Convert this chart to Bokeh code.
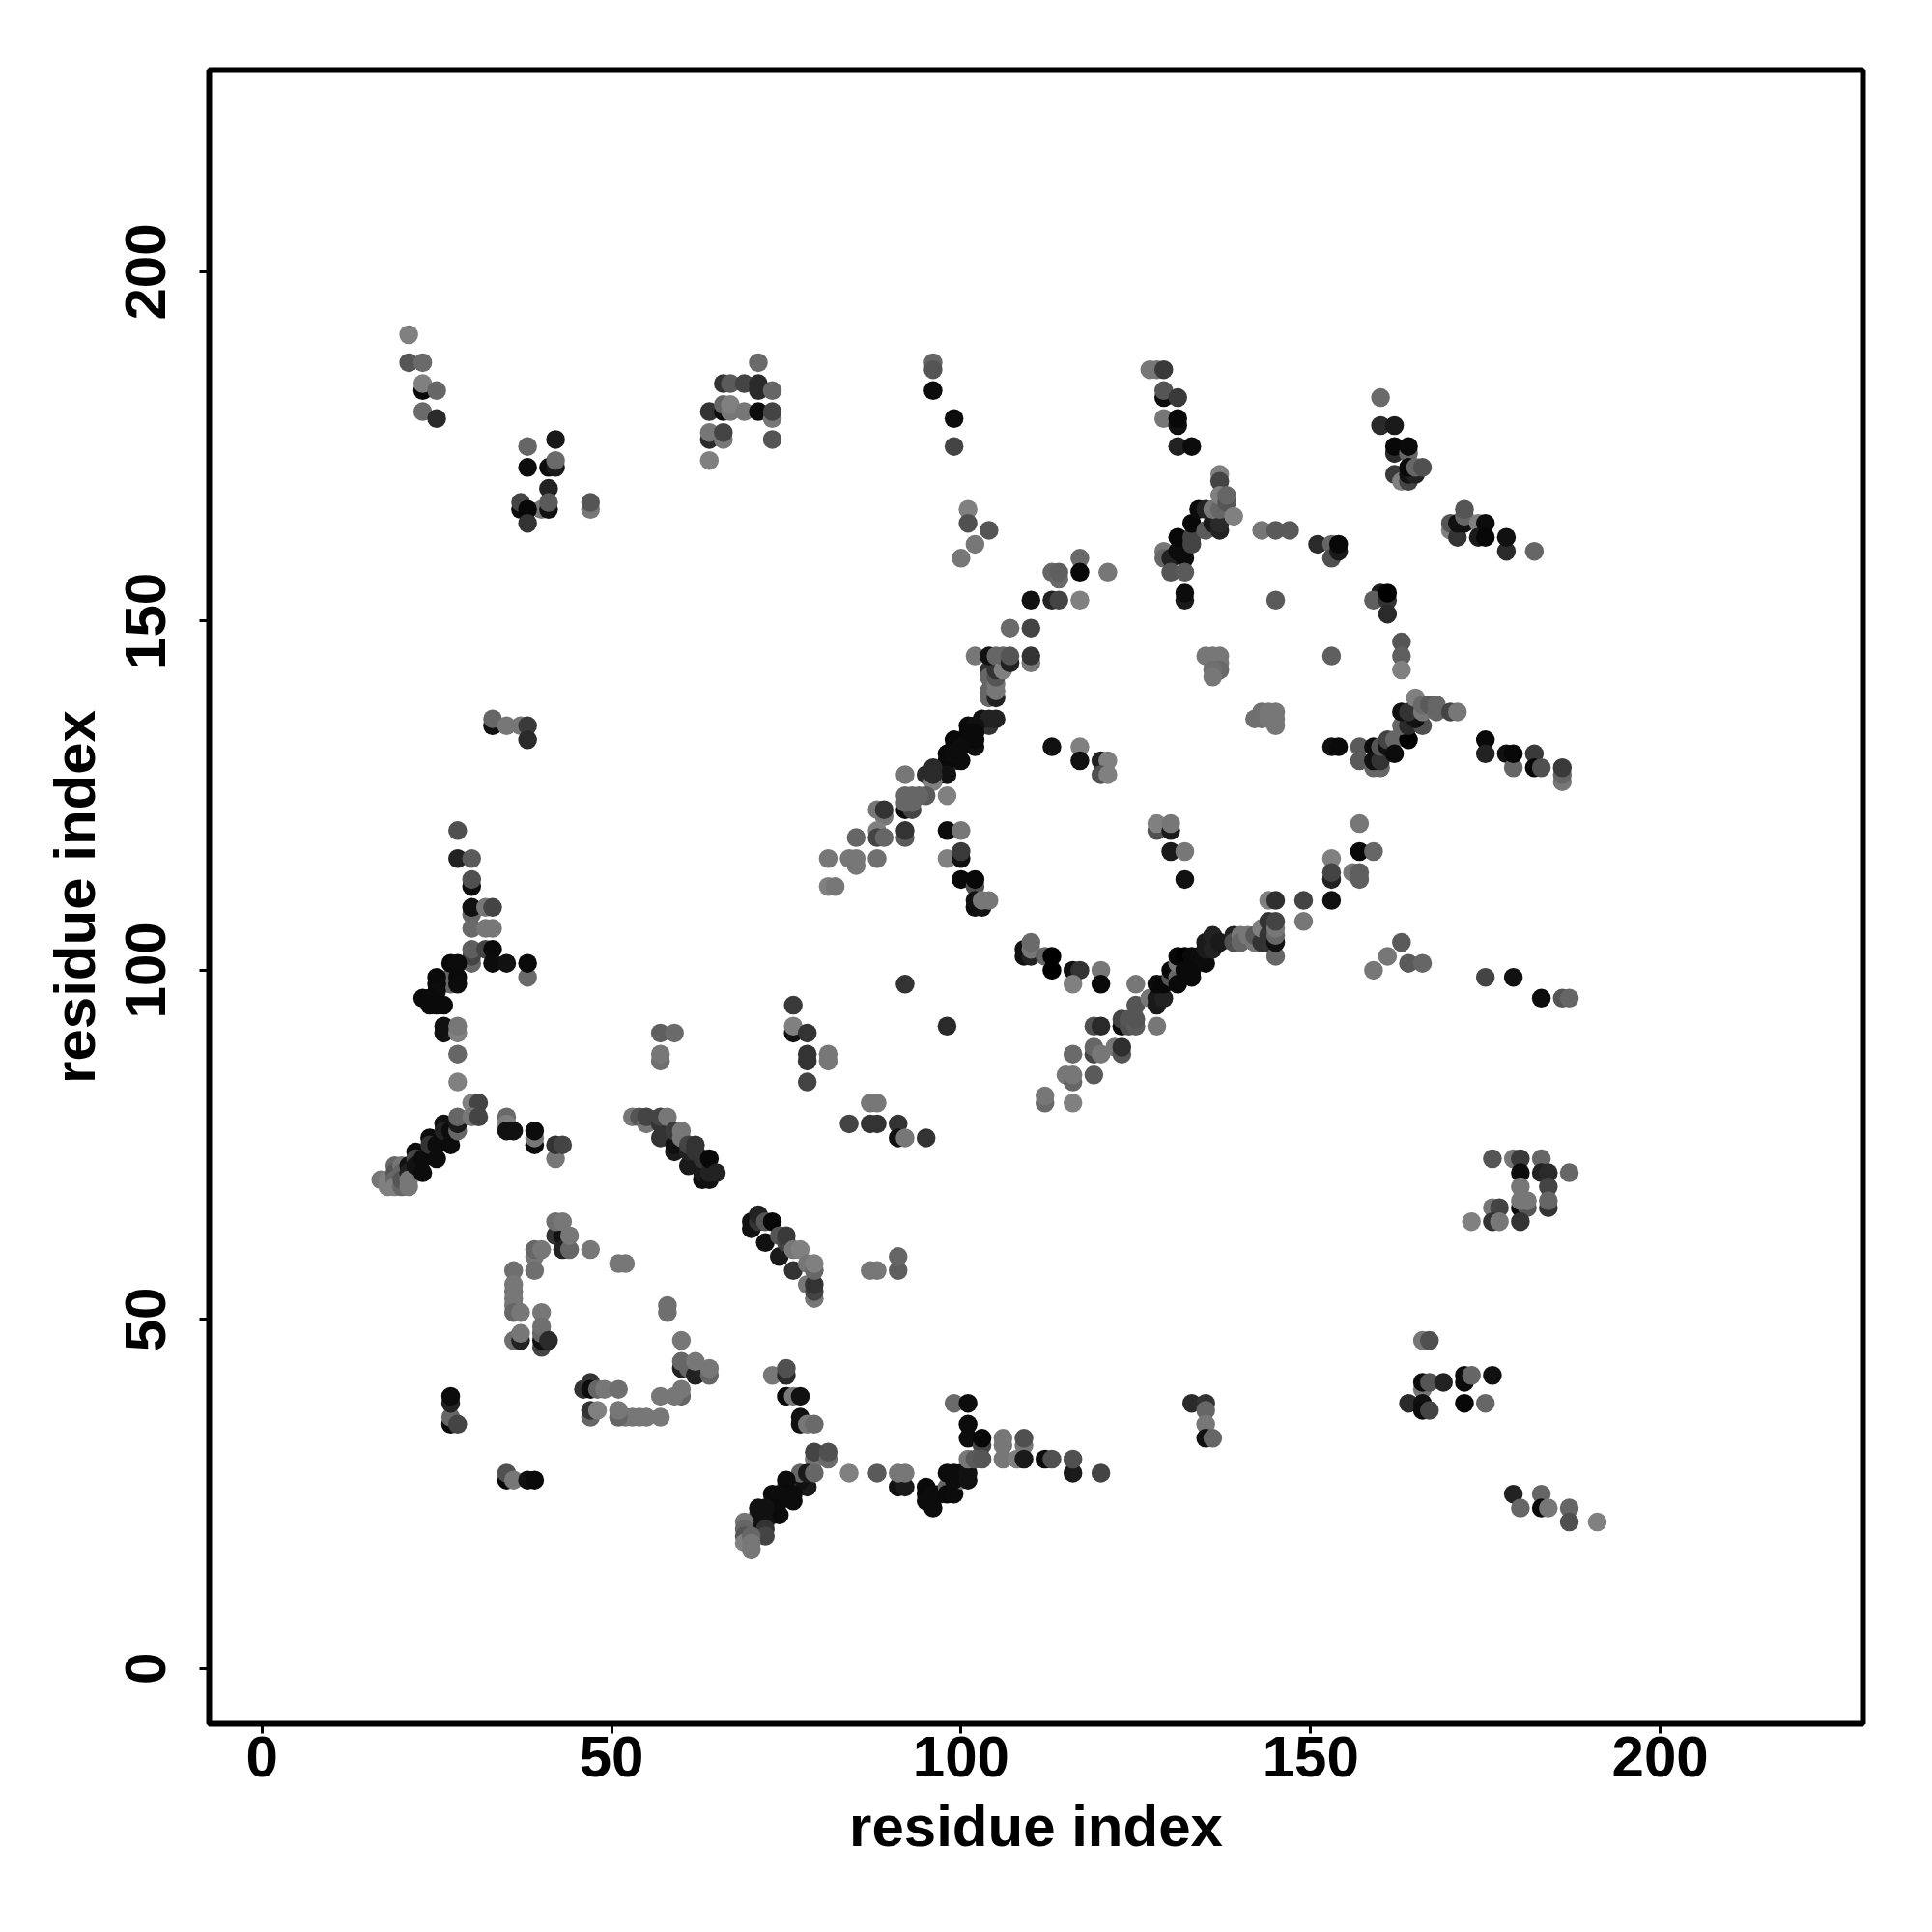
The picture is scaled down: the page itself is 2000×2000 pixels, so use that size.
from bokeh.plotting import figure
from bokeh.models import FixedTicker, Range1d, ColumnDataSource
from bokeh.embed import file_html
from bokeh.resources import INLINE

tick_values = [0, 50, 100, 150, 200]
axis_title = "residue index"

# (residue i, residue j, grey level of the point)
top_left = [(21,191,0x80),(21,187,0x55),(23,187,0x6a),(23,183,0x08),(23,184,0x80),(25,183,0x66),(23,180,0x6a),(25,179,0x2a),
 (38,175,0x66),(42,176,0x18),(38,172,0x0c),(41,172,0x0c),(42,172,0x1a),(42,173,0x6a),(41,169,0x22),(37,166,0x0c),(37,167,0x44),(40,166,0x77),(38,166,0x08),(41,166,0x11),(41,167,0x5a),(38,164,0x33),(47,166,0x77),(47,167,0x55),
 (33,135,0x11),(33,136,0x66),(35,135,0x77),(37,135,0x77),(38,135,0x3a),(38,133,0x2a)]
top_mid = [(71,187,0x6a),(66,184,0x33),(67,184,0x5a),(69,184,0x44),(71,184,0x2a),(71,183,0x2a),(73,183,0x66),(64,180,0x33),(66,180,0x0c),(66,181,0x66),(67,180,0x77),(67,181,0x80),(69,180,0x77),(71,180,0x0c),(73,179,0x77),(73,180,0x44),(64,176,0x2a),(64,177,0x77),(66,176,0x77),(66,177,0x44),(73,176,0x55),(64,173,0x80),
 (96,187,0x66),(96,186,0x55),(96,183,0x0c),(99,179,0x0c),(99,175,0x44),(101,166,0x80),(101,164,0x50),(104,163,0x55),(102,161,0x77),(100,159,0x77),
 (117,159,0x6a),(117,157,0x08),(121,157,0x77),(113,157,0x66),(114,156,0x6a),(114,157,0x5f),(110,153,0x11),(113,153,0x22),(114,153,0x44),(117,153,0x80),(107,149,0x6a),(110,149,0x44),
 (127,186,0x77),(128,186,0x77),(129,186,0x3a),(129,182,0x0c),(129,183,0x55),(131,182,0x3a),(129,179,0x77),(131,178,0x11),(131,179,0x08),(131,175,0x22),(133,175,0x0c)]
star_upper = [(129,160,0x77),(129,159,0x66),(130,159,0x22),(131,160,0x0c),(132,159,0x0c),(131,162,0x08),(133,161,0x44),(133,162,0x44),(133,164,0x08),(130,157,0x55),(132,157,0x5a),(132,153,0x1a),(132,154,0x0c),
 (134,166,0x0c),(135,163,0x5a),(135,166,0x22),(136,164,0x1a),(137,163,0x22),(137,164,0x2a),(136,166,0x77),(137,166,0x66),(137,171,0x80),(137,170,0x44),(137,168,0x80),(138,167,0x55),(138,168,0x66),(139,165,0x80),
 (143,163,0x77),(145,163,0x5a),(147,163,0x5a),(151,161,0x2a),(153,161,0x66),(153,159,0x50),(154,160,0x1a),(154,161,0x08),(145,153,0x5a),(153,145,0x5f),
 (135,145,0x77),(136,145,0x77),(137,145,0x77),(136,144,0x77),(137,144,0x77),(137,143,0x6a),(136,143,0x70),(136,142,0x77),
 (160,182,0x6a),(160,178,0x2a),(162,178,0x1a),(162,174,0x2a),(162,175,0x08),(164,174,0x66),(164,175,0x0a),(162,171,0x3a),(163,170,0x80),(164,170,0x44),(164,171,0x11),(165,171,0x22),(164,172,0x0a),(165,172,0x66),(166,172,0x50),
 (170,163,0x80),(170,164,0x55),(171,162,0x33),(171,164,0x11),(172,164,0x11),(172,165,0x66),(172,166,0x55),(174,164,0x80),(174,162,0x1a),(175,164,0x0c),(175,162,0x08),(178,160,0x2a),(178,162,0x11),(182,160,0x66),
 (160,154,0x1a),(159,153,0x5f),(161,153,0x33),(161,154,0x00),(161,151,0x2a),(163,147,0x55),(163,145,0x5f),(163,143,0x80)]
right_band = [(153,132,0x11),(154,132,0x0a),(157,132,0x5a),(157,130,0x5a),(159,129,0x66),(160,129,0x66),(159,132,0x0c),(159,130,0x11),(160,130,0x33),(160,132,0x55),(161,132,0x11),(161,133,0x44),(162,133,0x66),(162,131,0x0c),(164,133,0x00),
 (163,135,0x66),(164,135,0x2a),(166,135,0x50),(165,136,0x11),(163,137,0x11),(164,137,0x33),(165,139,0x80),(166,137,0x77),(166,138,0x6a),(167,138,0x5a),(168,137,0x66),(168,138,0x66),(170,137,0x44),(171,137,0x77),
 (175,133,0x08),(175,131,0x22),(178,131,0x11),(179,129,0x66),(179,131,0x08),(182,131,0x3a),(182,129,0x08),(183,129,0x50),(186,127,0x77),(186,128,0x66),(186,129,0x3a),
 (142,136,0x70),(143,137,0x70),(143,136,0x70),(144,137,0x77),(144,136,0x77),(145,135,0x77),(145,136,0x77),(145,137,0x77)]
diag_upper = [(102,145,0x77),(104,143,0x33),(104,142,0x66),(104,140,0x66),(104,139,0x66),(105,139,0x22),(105,140,0x77),(105,141,0x77),(105,142,0x55),(105,143,0x33),(104,145,0x11),(105,145,0x66),(106,143,0x80),(106,145,0x66),(107,144,0x22),(107,145,0x55),(110,144,0x77),(110,145,0x33),
 (102,132,0x11),(104,135,0x33),(103,136,0x11),(104,136,0x22),(105,136,0x22),(101,135,0x0a),(102,135,0x11),(101,134,0x0a),(102,134,0x0a),(101,133,0x0a),(102,133,0x0a),(99,130,0x33),(100,130,0x0c),(99,133,0x08),(99,132,0x08),(100,132,0x0c),(98,130,0x0a),(98,131,0x0a),(99,131,0x0c),
 (98,128,0x11),(97,128,0x11),(95,128,0x2a),(96,127,0x80),(96,128,0x2a),(96,129,0x2a),(92,128,0x77),(95,125,0x5a),(98,125,0x80),(92,123,0x0c),(93,123,0x44),(94,125,0x66),(92,124,0x66),(93,124,0x66),(92,125,0x66),(93,125,0x66),
 (89,122,0x77),(88,123,0x77),(89,123,0x33),(88,120,0x80),(88,119,0x44),(89,119,0x66),(85,119,0x66),(92,119,0x5a),(92,120,0x33),(81,116,0x77),(84,116,0x77),(85,115,0x77),(85,116,0x77),(88,116,0x70),(81,112,0x80),(82,112,0x77),
 (98,120,0x0c),(100,120,0x77),(98,116,0x80),(100,116,0x11),(100,117,0x3a),(100,113,0x08),(102,112,0x50),(102,113,0x08),(102,109,0x0c),(103,109,0x11),(102,110,0x11),(103,110,0x77),(104,110,0x77),
 (113,132,0x11),(117,132,0x80),(117,130,0x11),(120,130,0x22),(121,130,0x80),(120,128,0x50),(121,128,0x80)]
ring_mid = [(128,120,0x50),(128,121,0x80),(130,120,0x1a),(130,121,0x77),(130,117,0x1a),(132,117,0x77),(132,113,0x11),(157,121,0x77),(157,117,0x08),(159,117,0x66),(156,114,0x77),(157,114,0x5f),(157,113,0x5f),
 (153,116,0x80),(153,113,0x22),(153,114,0x44),(153,110,0x11),(149,110,0x44),(149,107,0x77),(144,110,0x80),(145,110,0x2f),
 (109,102,0x11),(109,103,0x11),(110,102,0x22),(110,103,0x77),(110,104,0x6a),(112,102,0x66),(113,102,0x00),(113,100,0x00),(116,100,0x11),(117,100,0x33),(116,98,0x80),(120,100,0x77),(120,98,0x0a),(125,98,0x77),(92,98,0x33),(98,92,0x2a),(128,92,0x77)]
diag_lower = [(112,81,0x6a),(112,82,0x77),(116,81,0x80),(115,85,0x77),(116,84,0x66),(116,85,0x77),(119,85,0x5a),(116,88,0x6a),(119,88,0x44),(119,89,0x66),(120,88,0x77),(122,89,0x77),(123,88,0x55),(123,89,0x2f),
 (119,92,0x50),(120,92,0x2a),(123,92,0x0c),(123,93,0x44),(124,92,0x50),(124,93,0x55),(125,92,0x5a),(125,93,0x55),(125,95,0x55),(127,96,0x77),(128,95,0x1a),(128,96,0x1a),(129,96,0x22),
 (128,98,0x0a),(129,98,0x08),(130,99,0x55),(130,100,0x08),(131,99,0x66),(131,98,0x0a),(131,101,0x77),(131,102,0x08),(132,102,0x00),(133,102,0x0a),(132,100,0x0a),(133,100,0x0a),(133,99,0x0a),(134,102,0x0c),(135,101,0x0c),(135,103,0x1a),(135,104,0x1a),(136,103,0x22),(136,105,0x22),(137,104,0x1a),
 (139,105,0x22),(139,104,0x50),(140,105,0x77),(140,104,0x66),(141,105,0x77),(142,104,0x77),(142,105,0x5a),(143,104,0x33),(143,106,0x80),(144,104,0x33),(144,105,0x33),(144,107,0x33),(145,102,0x66),(145,104,0x11),(145,105,0x66),(145,106,0x77),(145,107,0x44),
 (159,100,0x77),(161,102,0x77),(163,104,0x5a),(164,101,0x5a),(166,101,0x66),(175,99,0x44),(179,99,0x11),(183,96,0x0c),(186,96,0x55),(187,96,0x66)]
left_upper = [(28,120,0x50),(28,116,0x22),(30,116,0x5a),(30,112,0x0c),(30,113,0x50),(30,108,0x66),(30,109,0x11),(32,109,0x77),(33,109,0x44),(30,106,0x6a),(32,106,0x77),(33,106,0x77),(30,101,0x66),(30,102,0x44),(30,103,0x5f),(32,103,0x44),(33,103,0x0a),(33,101,0x0c),(35,101,0x11),(38,99,0x6a),(38,101,0x0a),
 (27,99,0x66),(27,98,0x66),(27,101,0x0a),(28,101,0x0c),(28,99,0x0a),(28,98,0x0c),(25,99,0x0a),(25,98,0x0a),(25,97,0x0c),(23,96,0x0a),(24,96,0x0a),(24,95,0x0a),(25,95,0x0a),(26,95,0x0a),(26,91,0x11),(26,92,0x11),(28,91,0x80),(28,92,0x77),(28,88,0x66),(28,84,0x80)]
left_lower = [(17,70,0x77),(18,69,0x80),(18,70,0x80),(19,72,0x66),(19,71,0x55),(19,70,0x66),(19,69,0x80),(20,72,0x77),(20,71,0x66),(20,69,0x66),(20,70,0x55),(21,72,0x11),(21,71,0x22),(21,69,0x77),(21,70,0x77),
 (22,74,0x0c),(22,73,0x44),(22,72,0x11),(23,73,0x0c),(23,71,0x0c),(24,76,0x0c),(24,75,0x33),(25,75,0x0c),(25,73,0x0c),(26,78,0x11),(26,77,0x22),(27,77,0x0c),(27,75,0x0c),(28,77,0x66),(28,78,0x1a),(28,79,0x66),(30,81,0x80),(31,81,0x44),(30,79,0x77),(31,79,0x44),
 (35,79,0x6a),(35,78,0x80),(35,77,0x11),(36,77,0x11),(39,75,0x0a),(39,76,0x77),(39,77,0x0c),(42,73,0x77),(42,75,0x33),(43,75,0x44),
 (57,91,0x5f),(59,91,0x6a),(57,87,0x6f),(57,88,0x77),(76,95,0x3a),(76,91,0x11),(76,92,0x80),(78,91,0x33),(78,87,0x33),(78,88,0x33),(78,84,0x44),(81,87,0x77),(81,88,0x77),(87,81,0x77),(88,81,0x77),(84,78,0x44),(87,78,0x33),(88,78,0x33),(91,78,0x33),(91,76,0x11),(92,76,0x77),(95,76,0x33)]
diag_a = [(53,79,0x77),(54,79,0x55),(55,78,0x77),(55,79,0x44),(57,76,0x33),(57,78,0x33),(57,79,0x44),(58,79,0x77),(59,74,0x1a),(59,75,0x11),(59,77,0x3a),(60,76,0x77),(60,77,0x77),(61,72,0x1a),(61,74,0x22),(61,75,0x44),(62,74,0x33),(62,75,0x33),(63,70,0x0c),(63,71,0x1a),(63,73,0x33),(64,70,0x11),(64,71,0x22),(64,73,0x08),(65,71,0x22)]
diag_b = [(70,63,0x11),(70,64,0x11),(71,64,0x33),(71,65,0x22),(72,61,0x11),(72,64,0x55),(73,64,0x08),(74,59,0x1a),(74,62,0x55),(75,61,0x44),(75,62,0x3a),(76,57,0x33),(76,60,0x77),(77,60,0x80),(78,55,0x77),(78,58,0x77),(79,53,0x77),(79,54,0x44),(79,55,0x33),(79,57,0x66),(79,58,0x80),(87,57,0x77),(88,57,0x77),(91,57,0x5f),(91,59,0x66)]
ring_low = [(42,62,0x33),(43,62,0x11),(43,60,0x22),(44,60,0x66),(42,64,0x6f),(43,64,0x77),(44,62,0x77),(47,60,0x77),(39,59,0x77),(39,60,0x66),(40,60,0x77),(39,57,0x6f),(36,57,0x6f),(36,54,0x6f),(36,55,0x77),(36,53,0x77),(36,52,0x77),(36,51,0x66),(37,51,0x77),(40,51,0x77),(40,46,0x44),(40,47,0x11),(40,48,0x66),(40,49,0x6f),(41,47,0x2a),(36,47,0x6f),(37,47,0x22),(37,48,0x77),
 (51,58,0x77),(52,58,0x77),(58,52,0x6f),(58,51,0x6f),(60,47,0x77),(60,43,0x22),(60,44,0x66),(61,43,0x66),(62,42,0x22),(62,44,0x77),(64,42,0x66),(64,43,0x77),(60,39,0x66),(60,40,0x77),(59,39,0x77),(57,39,0x77),(57,36,0x77),(55,36,0x77),(54,36,0x77),(53,36,0x77),(52,36,0x77),(51,36,0x66),(51,37,0x77),
 (47,41,0x33),(46,40,0x33),(47,40,0x0c),(48,40,0x66),(49,40,0x77),(51,40,0x6f),(47,36,0x66),(47,37,0x33),(48,37,0x80)]
bottom_left = [(73,42,0x77),(75,42,0x2a),(75,43,0x50),(75,39,0x08),(76,39,0x77),(77,39,0x11),(77,36,0x11),(77,35,0x11),(78,35,0x77),(79,35,0x6a),(79,30,0x77),(79,31,0x44),(81,30,0x6a),(81,31,0x50),(78,26,0x1a),(77,27,0x11),(77,28,0x66),(78,28,0x1a),(79,28,0x66),
 (75,26,0x66),(75,27,0x0c),(75,25,0x0a),(76,25,0x0c),(76,24,0x0c),(73,24,0x77),(73,25,0x0a),(74,25,0x0c),(74,24,0x0c),(73,23,0x0a),(74,22,0x0c),(73,22,0x0a),(71,22,0x33),(71,23,0x11),(72,23,0x11),(71,21,0x11),(72,21,0x11),(72,20,0x33),(72,19,0x44),
 (69,21,0x77),(69,20,0x66),(69,19,0x55),(69,18,0x80),(70,19,0x66),(70,18,0x77),(70,17,0x77),
 (27,35,0x0a),(27,36,0x66),(27,38,0x22),(27,39,0x0c),(28,35,0x44),(35,27,0x08),(35,28,0x50),(36,27,0x77),(38,27,0x11),(39,27,0x0a)]
bottom_mid = [(84,28,0x80),(88,28,0x5a),(91,26,0x11),(92,26,0x1a),(91,28,0x77),(92,28,0x77),(95,26,0x0a),(95,25,0x0a),(95,24,0x0c),(96,23,0x0c),(96,25,0x0c),(97,25,0x0c),(98,26,0x66),(98,25,0x0a),(99,25,0x0c),(98,28,0x0c),(99,28,0x0c),(100,27,0x77),(99,27,0x0c),(100,28,0x0c),(101,27,0x11),(101,28,0x11),
 (99,38,0x6a),(101,38,0x0c),(101,35,0x0c),(101,33,0x0c),(103,32,0x44),(103,33,0x08),(101,30,0x77),(102,30,0x5a),(103,30,0x55),(106,30,0x77),(106,32,0x77),(106,33,0x77),(109,32,0x77),(109,33,0x50),(108,30,0x80),(109,30,0x1a),(112,30,0x0c),(113,30,0x50),(116,28,0x1a),(116,30,0x50),(120,28,0x44),
 (133,38,0x2a),(135,38,0x33),(135,37,0x66),(135,35,0x77),(135,33,0x11),(136,33,0x66)]
bottom_right = [(176,73,0x55),(179,73,0x77),(180,73,0x3a),(183,73,0x66),(180,71,0x0c),(183,71,0x22),(184,71,0x2a),(187,71,0x66),(180,69,0x77),(184,69,0x44),(184,66,0x33),(184,67,0x66),(180,66,0x0c),(181,66,0x55),(180,67,0x77),(181,67,0x77),(176,66,0x77),(177,66,0x44),(176,64,0x33),(177,64,0x77),(173,64,0x80),(180,64,0x33),
 (166,47,0x77),(167,47,0x50),(166,40,0x77),(166,41,0x0c),(167,41,0x55),(169,41,0x22),(172,41,0x0c),(172,42,0x0c),(173,42,0x66),(176,42,0x11),(164,38,0x2a),(166,38,0x11),(166,37,0x0c),(167,37,0x44),(172,38,0x08),(175,38,0x66),
 (179,25,0x22),(180,23,0x66),(183,25,0x66),(183,23,0x0a),(184,23,0x77),(187,23,0x66),(187,21,0x50),(191,21,0x80)]

contacts = (top_left + top_mid + star_upper + right_band + diag_upper + ring_mid + diag_lower +
            left_upper + left_lower + diag_a + diag_b + ring_low + bottom_left + bottom_mid + bottom_right)
source = ColumnDataSource(dict(
    x=[c[0] for c in contacts],
    y=[c[1] for c in contacts],
    color=["#%02x%02x%02x" % (c[2], c[2], c[2]) for c in contacts],
))

p = figure(width=1984, height=1984, output_backend="svg", toolbar_location=None,
           x_range=Range1d(-7.55, 229.0), y_range=Range1d(-7.9, 228.9),
           min_border_left=216, min_border_right=56, min_border_top=72, min_border_bottom=200,
           background_fill_color="white", border_fill_color="white")
p.frame_width = 1712
p.frame_height = 1712
p.grid.visible = False
p.outline_line_color = "black"
p.outline_line_width = 6
p.scatter("x", "y", source=source, size=19.5, marker="circle", fill_color="color", line_color=None)

for ax in (p.xaxis[0], p.yaxis[0]):
    ax.ticker = FixedTicker(ticks=tick_values)
    ax.axis_label = axis_title
    ax.axis_line_color = None
    ax.minor_tick_line_color = None
    ax.major_tick_line_color = "black"
    ax.major_tick_line_width = 3
    ax.major_tick_in = 0
    ax.major_tick_out = 10
    ax.major_label_text_font = "Liberation Sans"
    ax.major_label_text_font_style = "bold"
    ax.major_label_text_font_size = "60px"
    ax.major_label_text_color = "black"
    ax.axis_label_text_font = "Liberation Sans"
    ax.axis_label_text_font_style = "bold"
    ax.axis_label_text_font_size = "60px"
    ax.axis_label_text_color = "black"
p.xaxis[0].major_label_standoff = 3
p.xaxis[0].axis_label_standoff = 15
p.yaxis[0].major_label_standoff = 35
p.yaxis[0].axis_label_standoff = 17
p.yaxis[0].major_label_orientation = "vertical"

open("out.html", "w").write(file_html(p, INLINE))
